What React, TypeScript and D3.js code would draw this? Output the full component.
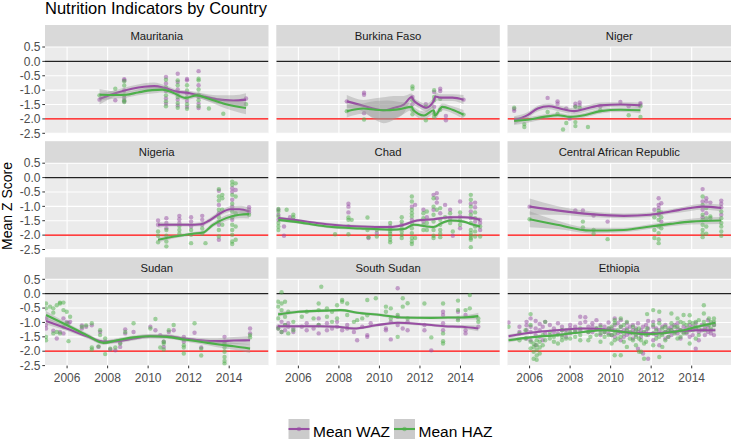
import React from "react";
import * as d3 from "d3";

type Cluster = [number, number[]];
type Smooth = [number, number, number][];

const titleText = "Nutrition Indicators by Country";
const yTitle = "Mean Z Score";
const countries = ["Mauritania", "Burkina Faso", "Niger", "Nigeria", "Chad", "Central African Republic", "Sudan", "South Sudan", "Ethiopia"];
const yTicks = [0.5, 0.0, -0.5, -1.0, -1.5, -2.0, -2.5];
const xTicks = [2006, 2008, 2010, 2012, 2014];
const seriesNames = ["Mean WAZ", "Mean HAZ"];
const seriesColors = ["#984EA3", "#4DAF4A"];
const refLines = [0, -2];

// ---------- points: [year, [values at that survey year]] ----------
const mauritaniaWAZ: Cluster[] = [[2007.6, [-1.33]], [2008.38, [-1.35]], [2008.82, [-0.62, -0.66, -1.01, -1.27, -1.39]], [2010.88, [-0.54, -0.77, -1.03, -1.29, -1.47]], [2011.46, [-0.43, -0.72, -0.98, -1.33, -1.53]], [2011.92, [-0.61, -0.66, -1.12, -1.38, -1.58]], [2012.49, [-0.34, -0.83, -1.24, -1.47, -1.62]], [2014.83, [-1.29]]];
const mauritaniaHAZ: Cluster[] = [[2007.6, [-1.18]], [2008.38, [-0.95]], [2008.82, [-0.69, -0.84, -1.18, -1.35, -1.41]], [2010.88, [-0.64, -0.91, -1.18, -1.39, -1.56]], [2011.46, [-0.66, -0.83, -1.10, -1.24, -1.45, -1.61]], [2011.92, [-0.83, -1.01, -1.26, -1.49, -1.65]], [2012.49, [-0.60, -0.66, -0.98, -1.16, -1.35, -1.56]], [2013.0, [-1.64]], [2013.71, [-1.82]], [2014.83, [-1.49]]];

const burkinaWAZ: Cluster[] = [[2008.39, [-1.39]], [2009.24, [-1.09, -1.16, -1.80]], [2011.63, [-1.24, -1.49]], [2012.29, [-1.49]], [2012.7, [-1.06, -1.58]], [2013.0, [-0.95, -1.03]], [2013.28, [-1.90, -2.05]], [2014.15, [-1.33]]];
const burkinaHAZ: Cluster[] = [[2008.39, [-1.73]], [2009.24, [-2.02]], [2011.63, [-0.87, -0.95, -1.35, -1.70, -1.84]], [2012.29, [-1.58, -2.05]], [2012.7, [-1.0, -1.24, -1.35, -1.82, -1.93]], [2013.0, [-1.30, -1.68]], [2014.15, [-1.85]]];

const nigerWAZ: Cluster[] = [[2005.24, [-1.72, -1.65]], [2006.89, [-1.27]], [2007.38, [-1.39, -1.47]], [2007.81, [-1.64]], [2007.98, [-1.99]], [2008.26, [-1.47, -1.56]], [2008.47, [-1.43, -1.52]], [2009.49, [-1.56]], [2010.48, [-1.41]], [2010.89, [-1.56]], [2011.47, [-1.45, -1.50]]];
const nigerHAZ: Cluster[] = [[2005.24, [-1.61]], [2005.74, [-2.18, -2.28]], [2006.89, [-1.76]], [2007.38, [-1.82]], [2007.65, [-2.37]], [2007.81, [-2.14]], [2008.26, [-1.58, -2.11, -2.25]], [2008.47, [-1.61]], [2008.88, [-2.28]], [2009.49, [-1.70]], [2010.89, [-1.87]], [2011.47, [-1.56, -1.93]]];

const nigeriaWAZ: Cluster[] = [[2010.49, [-1.49, -1.64]], [2010.9, [-1.41, -1.58, -1.76]], [2011.54, [-1.33, -1.45, -1.58]], [2012.12, [-1.38, -1.53, -1.70]], [2012.67, [-1.33, -1.47, -1.64]], [2013.49, [-0.46, -0.95, -1.24, -1.64, -2.16]], [2014.15, [-0.37, -0.49, -0.77, -1.01, -1.47]], [2014.32, [-0.43]], [2014.98, [-1.03, -1.12, -1.21]]];
const nigeriaHAZ: Cluster[] = [[2010.49, [-1.87, -2.02, -2.25]], [2010.9, [-1.82, -2.02, -2.22, -2.39]], [2011.54, [-1.68, -1.82, -1.95]], [2012.12, [-1.82, -1.99, -2.28]], [2012.67, [-1.77, -1.95]], [2012.83, [-2.28]], [2013.49, [-0.40, -0.66, -0.80, -1.12, -1.38, -1.53, -1.82, -2.05]], [2013.66, [-0.60, -0.72, -1.12, -1.64]], [2014.15, [-0.14, -0.25, -0.60, -0.91, -1.18, -1.38, -1.64, -1.82, -1.99, -2.22, -2.31]], [2014.32, [-0.20, -0.66, -1.24, -1.70, -2.16]], [2014.98, [-1.29]]];

const chadWAZ: Cluster[] = [[2005.01, [-1.12, -1.29, -1.47]], [2005.29, [-1.70, -2.02]], [2005.59, [-1.38]], [2005.75, [-1.47]], [2008.47, [-0.91, -1.01, -1.21]], [2009.46, [-2.10]], [2009.87, [-1.93]], [2010.53, [-1.70]], [2011.1, [-1.64]], [2011.6, [-1.01, -1.47]], [2011.76, [-0.95]], [2012.17, [-1.12, -1.53]], [2012.34, [-1.38]], [2012.67, [-0.60, -1.12]], [2012.83, [-0.54, -0.72, -0.87]], [2013.0, [-1.24]], [2013.24, [-0.95]], [2013.49, [-1.12, -1.41]], [2013.62, [-2.02]], [2013.98, [-0.83, -1.35, -1.76]], [2014.51, [-0.91, -1.18, -1.41]], [2014.72, [-0.87, -1.03, -1.53]], [2014.97, [-1.47, -1.58, -1.82]]];
const chadHAZ: Cluster[] = [[2005.01, [-1.09, -1.18, -1.35, -1.58, -1.70, -1.82]], [2005.42, [-1.12]], [2005.75, [-1.29, -1.38]], [2007.81, [-1.97]], [2008.47, [-1.39, -1.47, -1.70, -1.97]], [2008.63, [-1.47]], [2009.41, [-1.39, -1.82]], [2009.46, [-2.07]], [2009.87, [-1.82, -2.05]], [2010.53, [-1.58, -1.79, -1.87, -1.95, -2.05, -2.16, -2.25]], [2011.1, [-1.38, -1.53, -1.76, -1.87, -1.99, -2.10]], [2011.6, [-0.66, -0.83, -1.12, -1.24, -1.35, -1.58, -1.76, -1.93, -2.10, -2.22, -2.31]], [2011.76, [-2.10]], [2012.17, [-1.24, -1.41, -1.64, -1.82]], [2012.34, [-1.18, -1.58, -1.82]], [2012.67, [-0.72, -1.01, -1.29, -1.53, -1.82, -2.02, -2.10]], [2012.83, [-1.12]], [2013.0, [-1.06, -1.47, -1.64, -1.82, -1.95, -2.07]], [2013.24, [-1.38]], [2013.49, [-1.24, -1.58]], [2013.62, [-1.87]], [2013.98, [-1.21, -1.49, -1.64]], [2014.51, [-0.60, -0.77, -1.01, -1.29, -1.58, -1.82, -1.93, -2.02, -2.10, -2.16, -2.42]], [2014.72, [-1.21, -1.41, -1.70, -1.87, -2.05]], [2014.97, [-1.70, -2.05]]];

const carWAZ: Cluster[] = [[2006.0, [-1.01]], [2008.26, [-1.14]], [2008.63, [-1.14]], [2009.16, [-1.32]], [2009.85, [-1.53]], [2012.16, [-1.12]], [2012.37, [-0.72, -0.95, -1.06, -1.29]], [2012.5, [-0.89, -1.53]], [2014.54, [-0.40, -0.83, -1.12, -1.38]], [2014.72, [-0.72, -0.83, -1.24]], [2014.92, [-0.87]], [2015.46, [-0.80, -0.91, -1.03, -1.29]]];
const carHAZ: Cluster[] = [[2006.0, [-1.45]], [2008.63, [-1.53, -1.73]], [2009.16, [-1.82, -1.95]], [2009.85, [-2.14]], [2012.16, [-1.38, -1.82, -2.10]], [2012.37, [-1.15, -1.24, -1.47, -1.70, -1.93, -2.14, -2.28]], [2012.5, [-1.21, -1.38, -1.76]], [2014.54, [-0.66, -0.95, -1.29, -1.47, -1.64, -1.82, -1.95, -2.07]], [2014.72, [-1.06, -1.41, -1.70, -1.95]], [2014.92, [-1.35, -1.41]], [2015.46, [-1.18, -1.41, -1.58, -1.70, -1.87, -2.02]]];

const sudanWAZ: Cluster[] = [[2004.96, [-0.86, -1.09, -1.21]], [2005.32, [-1.29]], [2005.49, [-1.56]], [2005.65, [-1.33]], [2005.82, [-0.86, -1.38]], [2005.98, [-0.98]], [2006.07, [-1.03]], [2006.15, [-0.98]], [2006.73, [-1.10, -1.21]], [2006.94, [-1.15]], [2007.22, [-1.10]], [2007.55, [-1.85]], [2007.63, [-1.33]], [2007.88, [-1.67]], [2008.13, [-1.94]], [2008.38, [-1.97]], [2008.62, [-1.71, -1.85]], [2008.87, [-1.24, -1.38]], [2009.28, [-1.33]], [2010.11, [-1.15]], [2010.36, [-1.27]], [2010.6, [-1.44]], [2010.77, [-1.67, -1.85]], [2011.02, [-1.33]], [2011.26, [-1.27]], [2011.76, [-1.50, -1.67]], [2012.29, [-1.36]], [2012.62, [-1.87]], [2013.77, [-1.50, -1.67]], [2015.03, [-1.21, -1.38]]];
const sudanHAZ: Cluster[] = [[2004.96, [-0.34, -0.51, -1.50, -1.62]], [2005.16, [-0.45]], [2005.32, [-0.51, -0.66, -1.38]], [2005.49, [-0.40, -1.33]], [2005.65, [-0.34, -0.31, -1.38]], [2005.82, [-0.31, -0.57, -1.15]], [2005.98, [-0.63, -1.03]], [2006.07, [-1.65]], [2006.15, [-0.80]], [2006.73, [-1.15]], [2006.94, [-1.10]], [2007.22, [-1.03, -1.87, -1.94]], [2007.55, [-1.83]], [2007.63, [-1.27, -1.44]], [2007.88, [-2.10, -1.56]], [2008.13, [-1.91]], [2008.38, [-1.87]], [2008.62, [-1.73]], [2008.87, [-1.33]], [2009.28, [-1.03]], [2010.11, [-1.21]], [2010.36, [-0.88]], [2010.6, [-1.87]], [2010.77, [-1.67, -1.73, -1.94]], [2011.02, [-1.27]], [2011.26, [-1.09]], [2011.76, [-1.59, -1.79, -1.87, -2.08]], [2012.29, [-1.03]], [2012.62, [-1.91, -2.15]], [2013.77, [-1.73, -1.87, -2.02, -2.20, -2.34, -2.43]], [2015.03, [-1.44, -1.52]]];

const southSudanWAZ: Cluster[] = [[2005.0, [-1.15, -1.21]], [2005.17, [-0.98, -1.33]], [2005.34, [-1.09, -1.27]], [2005.5, [-1.15, -1.03]], [2005.75, [-1.21, -1.33]], [2006.17, [-1.15]], [2006.41, [-1.03, -1.27]], [2006.75, [-1.21]], [2007.0, [-0.86, -1.09, -1.38]], [2007.41, [-1.27, -1.03]], [2007.66, [-1.21]], [2007.91, [-0.98, -1.15]], [2008.16, [-1.27]], [2008.41, [-1.09, -1.21]], [2008.74, [-1.33]], [2008.9, [-1.62]], [2009.15, [-1.15]], [2009.4, [-1.44, -1.50]], [2009.57, [-1.03]], [2010.32, [-1.21, -1.27]], [2010.56, [-1.59, -0.98]], [2010.9, [0.19, -0.80, -1.09]], [2011.15, [-1.21]], [2011.39, [-1.27, -0.98]], [2012.22, [-1.27, -1.09]], [2012.56, [-1.97]], [2013.14, [-0.63, -0.74, -1.03, -1.27]], [2013.88, [-0.63, -0.86]], [2014.25, [-0.74, -1.27, -1.38]], [2014.88, [-1.15]]];
const southSudanHAZ: Cluster[] = [[2005.0, [-0.28, -0.45, -0.86, -1.21]], [2005.17, [0.05, -0.34, -0.57, -1.33]], [2005.34, [-0.28, -0.80, -1.09]], [2005.5, [-0.63, -1.38]], [2005.75, [-0.98, -1.27]], [2006.17, [-0.80]], [2006.41, [-0.63]], [2006.75, [-0.86]], [2007.0, [-0.34, -0.57, -1.09]], [2007.13, [0.24]], [2007.41, [-0.51, -0.80]], [2007.66, [-0.63, -0.98]], [2007.91, [-0.40, -0.86]], [2008.16, [-0.22, -0.28]], [2008.41, [-0.34, -0.74]], [2008.74, [-0.98]], [2008.9, [-0.92]], [2009.15, [-0.86]], [2009.4, [-0.75, -0.22]], [2009.82, [-0.16]], [2010.32, [-0.45, -0.63]], [2010.56, [-0.51, -0.86]], [2010.9, [-0.74, -1.50]], [2011.15, [-0.16, -0.45]], [2011.39, [-0.33, -0.86]], [2012.22, [-0.34]], [2012.56, [-1.52]], [2013.14, [-0.34, -1.38, -1.65, -1.73]], [2013.88, [-0.24, -0.57, -0.92]], [2014.25, [-0.57]], [2014.46, [-0.05, -0.51]], [2014.88, [-0.86, -0.98]]];

const ethiopiaWAZ: Cluster[] = [[2004.96, [-1.0]], [2005.5, [-1.15, -1.33]], [2005.85, [-0.98, -1.10, -1.27, -1.56]], [2006.05, [-0.86, -1.15, -1.33, -1.62]], [2006.3, [-0.95, -1.21, -1.44, -1.79]], [2006.5, [-1.05, -1.27, -1.50]], [2006.65, [-1.15, -1.62]], [2006.77, [-0.98, -1.38]], [2007.0, [-1.09, -1.44]], [2007.2, [-1.21, -1.33]], [2007.4, [-1.03, -1.38]], [2007.6, [-1.15, -1.27, -1.44]], [2007.8, [-1.27, -1.50]], [2008.0, [-1.09, -1.21, -1.38]], [2008.25, [-1.15, -1.33]], [2008.5, [-0.80, -1.03, -1.27]], [2008.75, [-0.82, -0.98]], [2008.9, [-1.15, -1.33]], [2009.1, [-1.03, -1.15, -1.33]], [2009.3, [-0.92, -1.21]], [2009.5, [-1.09, -1.27, -1.44]], [2009.7, [-1.15, -1.33]], [2009.9, [-1.0, -1.21, -1.38]], [2010.05, [-1.21, -1.44]], [2010.2, [-0.86, -1.09, -1.27, -1.50]], [2010.35, [-1.03, -1.38]], [2010.5, [-0.92, -1.15, -1.33, -1.62]], [2010.65, [-1.27, -1.50]], [2010.8, [-1.03, -1.21, -1.44]], [2010.95, [-1.15, -1.38]], [2011.1, [-1.09, -1.27, -1.56]], [2011.25, [-1.21, -1.44]], [2011.35, [-1.03, -1.33, -1.91]], [2011.5, [-1.27, -1.50]], [2011.6, [-1.15, -1.38, -2.08]], [2011.75, [-1.09, -1.33]], [2011.85, [-0.95, -1.21, -1.44, -2.26]], [2012.1, [-0.98, -1.15, -1.38, -1.62]], [2012.25, [-1.21, -1.44]], [2012.4, [-0.92, -1.27, -1.79]], [2012.55, [-1.15, -1.38]], [2012.7, [-1.09, -1.33, -1.56]], [2012.85, [-1.21, -1.50]], [2013.0, [-1.15, -1.27, -1.44]], [2013.15, [-1.09, -1.33]], [2013.3, [-1.03, -1.21, -1.38]], [2013.45, [-1.27, -1.56]], [2013.6, [-1.15, -1.33]], [2013.75, [-1.21, -1.38]], [2013.9, [-1.09, -1.27, -1.50]], [2014.05, [-1.15, -1.44]], [2014.2, [-1.03, -1.21, -1.91]], [2014.35, [-1.33, -1.62]], [2014.5, [-1.09, -1.27]], [2014.65, [-1.21, -1.44]], [2014.8, [-0.92, -1.15, -1.33]], [2014.95, [-1.27, -1.38]], [2015.1, [-1.09, -1.44]]];
const ethiopiaHAZ: Cluster[] = [[2004.96, [-1.15]], [2005.5, [-1.38, -1.62]], [2005.8, [-1.27, -1.56]], [2006.05, [-0.71, -1.09, -1.67, -1.90]], [2006.2, [-1.73, -1.85, -2.02, -2.26]], [2006.35, [-1.62, -1.79, -1.96, -2.15, -2.30]], [2006.5, [-1.67, -1.87, -2.08]], [2006.65, [-1.44, -1.79]], [2006.77, [-0.98, -1.62]], [2007.0, [-1.33, -1.56]], [2007.2, [-1.50, -1.67]], [2007.4, [-1.44, -1.73]], [2007.6, [-1.27, -1.50, -1.62]], [2007.8, [-1.38, -1.56]], [2008.0, [-1.33, -1.56]], [2008.25, [-1.27, -1.50]], [2008.5, [-1.21, -1.44, -1.62]], [2008.9, [-1.33, -1.62]], [2009.0, [-1.27, -1.50]], [2009.3, [-1.21, -1.44]], [2009.5, [-1.15, -1.38, -1.67]], [2009.7, [-1.33, -1.50]], [2009.9, [-1.21, -1.44]], [2010.05, [-1.15, -1.44, -1.73]], [2010.2, [-0.92, -1.03, -1.38, -1.62, -2.14]], [2010.35, [-1.27, -1.56]], [2010.5, [-0.86, -1.15, -1.50, -2.14]], [2010.65, [-1.09, -1.38, -1.67]], [2010.8, [-0.98, -1.27, -1.85]], [2010.95, [-1.33, -1.56]], [2011.1, [-1.15, -1.38, -1.62]], [2011.25, [-1.27, -1.50, -1.79]], [2011.4, [-1.21, -1.56, -2.02]], [2011.5, [-1.38, -1.62, -2.02]], [2011.65, [-1.33, -1.73, -2.26]], [2011.75, [-1.44, -1.67]], [2011.8, [-0.71, -1.21]], [2012.1, [-0.57, -1.09, -1.38, -1.79]], [2012.25, [-1.27, -1.56]], [2012.4, [-0.63, -1.03, -1.50, -2.20]], [2012.55, [-1.21, -1.44, -1.85]], [2012.7, [-1.15, -1.33, -1.62]], [2012.85, [-1.27, -1.50]], [2013.0, [-0.69, -1.03, -1.27]], [2013.15, [-1.15, -1.38]], [2013.3, [-0.86, -1.15, -1.56]], [2013.45, [-0.98, -1.27, -1.50]], [2013.6, [-0.74, -1.03, -1.38]], [2013.75, [-1.09, -1.33]], [2013.9, [-0.75, -0.98, -1.21, -1.73]], [2014.05, [-1.03, -1.27]], [2014.2, [-0.98, -1.15, -1.56]], [2014.35, [-0.92, -1.21, -1.44]], [2014.6, [-0.40, -0.69, -0.98]], [2014.65, [-1.09, -1.27]], [2014.85, [-0.86, -1.09]], [2014.95, [-0.98, -1.21]], [2015.1, [-0.86, -0.98, -1.09]]];

// ---------- smoothed fits: [year, fitted value, CI half-width] ----------
const mauritaniaWAZFit: Smooth = [[2007.6, -1.30, 0.2], [2008.0, -1.2, 0.14], [2008.5, -1.08, 0.1], [2009.2, -0.95, 0.1], [2009.8, -0.88, 0.12], [2010.3, -0.86, 0.13], [2010.8, -0.92, 0.1], [2011.4, -1.05, 0.08], [2012.0, -1.10, 0.08], [2012.6, -1.2, 0.1], [2013.4, -1.32, 0.14], [2014.2, -1.36, 0.18], [2014.83, -1.33, 0.22]];
const mauritaniaHAZFit: Smooth = [[2007.6, -1.16, 0.2], [2008.4, -1.17, 0.12], [2008.9, -1.16, 0.1], [2009.5, -1.08, 0.1], [2010.2, -1.0, 0.12], [2010.7, -0.98, 0.1], [2011.2, -1.08, 0.08], [2011.85, -1.27, 0.08], [2012.4, -1.18, 0.08], [2013.0, -1.3, 0.1], [2013.8, -1.48, 0.15], [2014.83, -1.62, 0.22]];

const burkinaWAZFit: Smooth = [[2008.39, -1.39, 0.22], [2009.2, -1.54, 0.2], [2009.8, -1.66, 0.38], [2010.2, -1.70, 0.45], [2010.7, -1.62, 0.42], [2011.2, -1.50, 0.3], [2011.6, -1.24, 0.12], [2011.66, -1.33, 0.12], [2012.0, -1.52, 0.12], [2012.3, -1.61, 0.14], [2012.68, -1.38, 0.14], [2012.76, -1.22, 0.14], [2013.0, -1.26, 0.12], [2013.6, -1.26, 0.12], [2014.15, -1.33, 0.16]];
const burkinaHAZFit: Smooth = [[2008.39, -1.73, 0.22], [2009.2, -1.64, 0.18], [2009.8, -1.68, 0.3], [2010.4, -1.70, 0.34], [2011.0, -1.66, 0.25], [2011.6, -1.58, 0.12], [2011.66, -1.68, 0.12], [2012.2, -1.88, 0.14], [2012.68, -1.70, 0.14], [2012.74, -1.88, 0.14], [2013.1, -1.58, 0.12], [2013.6, -1.68, 0.12], [2014.15, -1.85, 0.16]];

const nigerWAZFit: Smooth = [[2005.24, -2.05, 0.14], [2005.9, -1.87, 0.1], [2006.4, -1.64, 0.1], [2006.95, -1.56, 0.1], [2007.5, -1.64, 0.1], [2008.2, -1.73, 0.1], [2008.8, -1.64, 0.1], [2009.5, -1.53, 0.1], [2010.5, -1.50, 0.08], [2011.47, -1.53, 0.1]];
const nigerHAZFit: Smooth = [[2005.24, -2.07, 0.14], [2005.9, -2.03, 0.1], [2006.7, -1.93, 0.08], [2007.4, -1.87, 0.08], [2008.0, -1.93, 0.08], [2008.7, -1.87, 0.08], [2009.5, -1.73, 0.08], [2010.5, -1.68, 0.08], [2011.47, -1.70, 0.1]];

const nigeriaWAZFit: Smooth = [[2010.49, -1.64, 0.1], [2011.2, -1.64, 0.06], [2012.0, -1.64, 0.06], [2012.6, -1.62, 0.07], [2013.0, -1.50, 0.08], [2013.5, -1.27, 0.08], [2014.05, -1.10, 0.1], [2014.5, -1.10, 0.12], [2014.98, -1.18, 0.15]];
const nigeriaHAZFit: Smooth = [[2010.49, -2.16, 0.1], [2011.3, -2.05, 0.06], [2012.2, -1.95, 0.06], [2012.7, -1.91, 0.07], [2013.2, -1.64, 0.08], [2013.85, -1.41, 0.1], [2014.5, -1.29, 0.12], [2014.98, -1.27, 0.15]];

const chadWAZFit: Smooth = [[2005.01, -1.41, 0.06], [2005.75, -1.47, 0.05], [2007.4, -1.62, 0.05], [2009.05, -1.70, 0.05], [2010.53, -1.72, 0.05], [2011.2, -1.64, 0.05], [2011.86, -1.49, 0.05], [2012.67, -1.45, 0.05], [2013.49, -1.38, 0.05], [2014.15, -1.38, 0.05], [2014.64, -1.41, 0.06], [2014.97, -1.47, 0.08]];
const chadHAZFit: Smooth = [[2005.01, -1.47, 0.06], [2005.75, -1.53, 0.05], [2007.4, -1.70, 0.05], [2009.05, -1.77, 0.05], [2010.53, -1.81, 0.05], [2011.2, -1.79, 0.05], [2011.7, -1.64, 0.05], [2012.67, -1.72, 0.05], [2013.08, -1.58, 0.05], [2013.49, -1.49, 0.05], [2014.15, -1.53, 0.05], [2014.64, -1.64, 0.06], [2014.97, -1.70, 0.08]];

const carWAZFit: Smooth = [[2006.0, -1.01, 0.28], [2007.35, -1.14, 0.15], [2009.0, -1.27, 0.1], [2010.65, -1.33, 0.08], [2011.97, -1.29, 0.08], [2012.96, -1.18, 0.08], [2013.95, -1.06, 0.1], [2014.54, -1.01, 0.1], [2015.46, -1.06, 0.12]];
const carHAZFit: Smooth = [[2006.0, -1.45, 0.28], [2007.35, -1.64, 0.15], [2009.0, -1.84, 0.1], [2010.65, -1.82, 0.08], [2011.97, -1.70, 0.08], [2012.96, -1.61, 0.08], [2013.95, -1.53, 0.1], [2015.46, -1.49, 0.12]];

const sudanWAZFit: Smooth = [[2004.96, -0.95, 0.12], [2005.98, -1.21, 0.08], [2006.97, -1.48, 0.07], [2007.8, -1.67, 0.07], [2008.46, -1.65, 0.07], [2009.28, -1.56, 0.07], [2010.11, -1.48, 0.07], [2010.93, -1.48, 0.07], [2011.76, -1.56, 0.07], [2012.58, -1.62, 0.08], [2013.41, -1.65, 0.1], [2014.23, -1.63, 0.12], [2015.03, -1.62, 0.15]];
const sudanHAZFit: Smooth = [[2004.96, -0.74, 0.14], [2005.98, -1.09, 0.08], [2006.97, -1.44, 0.07], [2007.8, -1.71, 0.07], [2008.46, -1.62, 0.07], [2009.28, -1.52, 0.07], [2010.11, -1.48, 0.07], [2010.93, -1.50, 0.07], [2011.76, -1.59, 0.07], [2012.58, -1.67, 0.08], [2013.41, -1.76, 0.1], [2014.23, -1.83, 0.12], [2015.03, -1.91, 0.15]];

const southSudanWAZFit: Smooth = [[2005.0, -1.13, 0.07], [2006.0, -1.13, 0.05], [2007.1, -1.13, 0.05], [2007.91, -1.15, 0.05], [2008.74, -1.21, 0.05], [2009.82, -1.10, 0.05], [2010.9, -1.01, 0.05], [2012.06, -1.06, 0.05], [2013.22, -1.13, 0.05], [2014.05, -1.15, 0.06], [2014.88, -1.21, 0.1]];
const southSudanHAZFit: Smooth = [[2005.0, -0.72, 0.08], [2006.0, -0.63, 0.05], [2007.3, -0.59, 0.05], [2008.08, -0.57, 0.05], [2008.9, -0.66, 0.05], [2010.07, -0.74, 0.05], [2011.07, -0.83, 0.05], [2012.56, -0.84, 0.05], [2013.38, -0.83, 0.05], [2014.05, -0.83, 0.07], [2014.88, -0.78, 0.12]];

const ethiopiaWAZFit: Smooth = [[2004.96, -1.48, 0.07], [2006.03, -1.36, 0.04], [2007.35, -1.27, 0.04], [2008.66, -1.21, 0.04], [2009.65, -1.24, 0.04], [2010.64, -1.33, 0.04], [2011.8, -1.38, 0.04], [2012.78, -1.35, 0.04], [2013.6, -1.29, 0.04], [2014.26, -1.27, 0.05], [2015.17, -1.27, 0.08]];
const ethiopiaHAZFit: Smooth = [[2004.96, -1.62, 0.08], [2006.03, -1.52, 0.04], [2007.35, -1.44, 0.04], [2008.66, -1.33, 0.04], [2009.65, -1.27, 0.04], [2010.64, -1.33, 0.04], [2011.8, -1.41, 0.04], [2012.78, -1.36, 0.04], [2013.6, -1.27, 0.04], [2014.26, -1.15, 0.05], [2015.17, -1.01, 0.08]];

const pointsWAZ = [mauritaniaWAZ, burkinaWAZ, nigerWAZ, nigeriaWAZ, chadWAZ, carWAZ, sudanWAZ, southSudanWAZ, ethiopiaWAZ];
const pointsHAZ = [mauritaniaHAZ, burkinaHAZ, nigerHAZ, nigeriaHAZ, chadHAZ, carHAZ, sudanHAZ, southSudanHAZ, ethiopiaHAZ];
const fitsWAZ = [mauritaniaWAZFit, burkinaWAZFit, nigerWAZFit, nigeriaWAZFit, chadWAZFit, carWAZFit, sudanWAZFit, southSudanWAZFit, ethiopiaWAZFit];
const fitsHAZ = [mauritaniaHAZFit, burkinaHAZFit, nigerHAZFit, nigeriaHAZFit, chadHAZFit, carHAZFit, sudanHAZFit, southSudanHAZFit, ethiopiaHAZFit];

// ---------- layout ----------
const W = 732;
const H = 443;
const panelLefts = [45, 276.3, 507.5];
const panelTops = [47, 163.2, 279.3];
const panelW = 223.5;
const panelH = 86.3;
const stripH = 22;
const FONT = "'Liberation Sans', Arial, Helvetica, sans-serif";

const flat = (c: Cluster[]) => c.flatMap(([yr, vs]) => vs.map((v) => [yr, v] as [number, number]));

export default function App() {
  const x = d3.scaleLinear().domain([2004.91, 2015.94]).range([0, panelW]);
  const y = d3.scaleLinear().domain([-2.5, 0.5]).range([panelH, 0]);
  const line = d3
    .line<[number, number, number]>()
    .x((d) => x(d[0]))
    .y((d) => y(d[1]))
    .curve(d3.curveMonotoneX);
  const area = d3
    .area<[number, number, number]>()
    .x((d) => x(d[0]))
    .y0((d) => y(d[1] - d[2]))
    .y1((d) => y(d[1] + d[2]))
    .curve(d3.curveMonotoneX);

  return (
    <svg width={W} height={H} style={{ position: "absolute", left: 0, top: 0, display: "block", background: "#fff" }} fontFamily={FONT}>
      <text x={45} y={14} fontSize={16.5} fill="#000">
        {titleText}
      </text>
      <text transform={`translate(12.3,206) rotate(-90)`} textAnchor="middle" fontSize={14} fill="#000">
        {yTitle}
      </text>
      <defs>
        <clipPath id="pclip">
          <rect x={0} y={0} width={panelW} height={panelH} />
        </clipPath>
      </defs>
      {countries.map((name, i) => {
        const col = i % 3;
        const row = Math.floor(i / 3);
        const px = panelLefts[col];
        const py = panelTops[row];
        const series = [
          { pts: flat(pointsWAZ[i]), fit: fitsWAZ[i], color: seriesColors[0] },
          { pts: flat(pointsHAZ[i]), fit: fitsHAZ[i], color: seriesColors[1] },
        ];
        return (
          <g key={name}>
            <rect x={px} y={py - stripH} width={panelW} height={stripH} fill="#D9D9D9" />
            <text x={px + panelW / 2} y={py - stripH + 15} textAnchor="middle" fontSize={11.3} fill="#1A1A1A">
              {name}
            </text>
            <g transform={`translate(${px},${py})`}>
              <rect x={0} y={0} width={panelW} height={panelH} fill="#EBEBEB" />
              {yTicks.map((t) => (
                <line key={"gy" + t} x1={0} x2={panelW} y1={y(t)} y2={y(t)} stroke="#fff" strokeWidth={1.1} />
              ))}
              {xTicks.map((t) => (
                <line key={"gx" + t} x1={x(t)} x2={x(t)} y1={0} y2={panelH} stroke="#fff" strokeWidth={1.1} />
              ))}
              <g clipPath="url(#pclip)">
                {refLines.map((r) => (
                  <line key={"r" + r} x1={0} x2={panelW} y1={y(r)} y2={y(r)} stroke={r === 0 ? "#222" : "#FF0000"} strokeWidth={1.2} />
                ))}
                {series.map((s, si) => (
                  <g key={"p" + si}>
                    {s.pts.map((p, k) => (
                      <circle key={k} cx={x(p[0])} cy={y(p[1])} r={2.2} fill={s.color} fillOpacity={0.5} />
                    ))}
                  </g>
                ))}
                {series.map((s, si) => (
                  <g key={"f" + si}>
                    <path d={area(s.fit) || ""} fill="#999999" fillOpacity={0.4} />
                    <path d={line(s.fit) || ""} fill="none" stroke={s.color} strokeWidth={2.1} />
                  </g>
                ))}
              </g>
            </g>
            {col === 0 &&
              yTicks.map((t) => (
                <g key={"yt" + t}>
                  <line x1={px - 2.7} x2={px} y1={py + y(t)} y2={py + y(t)} stroke="#333" strokeWidth={1} />
                  <text x={px - 4.5} y={py + y(t) + 4.2} textAnchor="end" fontSize={12} fill="#4D4D4D">
                    {t.toFixed(1)}
                  </text>
                </g>
              ))}
            {row === 2 &&
              xTicks.map((t) => (
                <g key={"xt" + t}>
                  <line x1={px + x(t)} x2={px + x(t)} y1={py + panelH} y2={py + panelH + 2.7} stroke="#333" strokeWidth={1} />
                  <text x={px + x(t)} y={py + panelH + 16} textAnchor="middle" fontSize={12} fill="#4D4D4D">
                    {t}
                  </text>
                </g>
              ))}
          </g>
        );
      })}
      {seriesNames.map((nm, i) => {
        const kx = i === 0 ? 288.5 : 394;
        return (
          <g key={nm}>
            <rect x={kx} y={419} width={21} height={20} fill="#CBCBCB" />
            <line x1={kx} x2={kx + 21} y1={429} y2={429} stroke={seriesColors[i]} strokeWidth={2.1} />
            <circle cx={kx + 10.5} cy={429} r={2.2} fill={seriesColors[i]} fillOpacity={0.5} />
            <text x={kx + 24.5} y={436.5} fontSize={15.5} fill="#000">
              {nm}
            </text>
          </g>
        );
      })}
    </svg>
  );
}
